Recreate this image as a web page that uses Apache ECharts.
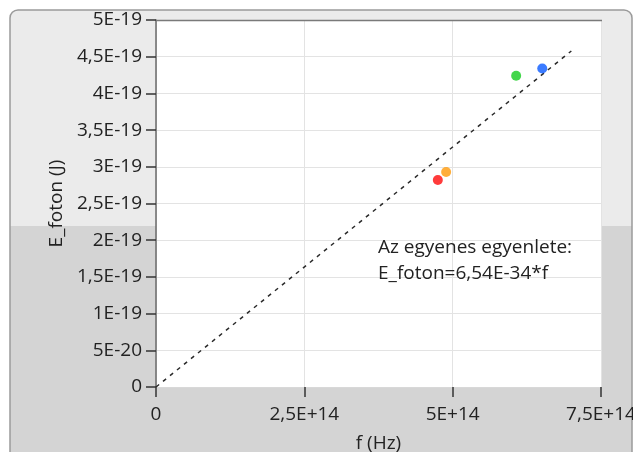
<!DOCTYPE html>
<html>
<head>
<meta charset="utf-8">
<script src="https://cdn.jsdelivr.net/npm/echarts@6/dist/echarts.min.js"></script>
<style>
html,body{margin:0;padding:0;background:#fff;}
#c{width:633px;height:452px;}
</style>
</head>
<body>
<div id="c"></div>
<script>
// Measured points (frequency in Hz, photon energy in J)
const fVals = [4.75e14, 4.89e14, 6.07e14, 6.51e14];
const eVals = [2.82e-19, 2.93e-19, 4.24e-19, 4.34e-19];
const pointColors = ['#ff0a0a', '#ff9a0a', '#14cc1e', '#0a5aff'];

// Fitted line endpoints (E = 6.54E-34 * f)
const lineF = [0, 7.0e14];
const lineE = [0, 4.578e-19];

const xTickLabels = ['0', '2,5E+14', '5E+14', '7,5E+14'];
const yTickLabels = ['0', '5E-20', '1E-19', '1,5E-19', '2E-19', '2,5E-19', '3E-19', '3,5E-19', '4E-19', '4,5E-19', '5E-19'];

const annotationLines = ['Az egyenes egyenlete:', 'E_foton=6,54E-34*f'];

const FONT = '"Open Sans", "Noto Sans", sans-serif';
const FS = 19;
const TXT = '#222222';

const chart = echarts.init(document.getElementById('c'), null, {renderer: 'canvas'});

const scatterData = fVals.map((f, i) => ({
  value: [f, eVals[i]],
  itemStyle: {color: pointColors[i]}
}));

chart.setOption({
  animation: false,
  backgroundColor: '#ffffff',
  graphic: [
    {type: 'rect', z: -30, shape: {x: 10, y: 10, width: 622, height: 460, r: 8}, style: {fill: '#ebebeb'}},
    {type: 'rect', z: -29, shape: {x: 10, y: 226, width: 622, height: 240}, style: {fill: '#d4d4d4'}},
    {type: 'rect', z: -28, shape: {x: 10, y: 10, width: 622, height: 460, r: 8}, style: {fill: null, stroke: '#9a9a9a', lineWidth: 1.5}},
    {type: 'line', z: 100, shape: {x1: 156, y1: 20.5, x2: 602, y2: 20.5}, style: {stroke: '#7a7a7a', lineWidth: 1.5}},
    {type: 'text', z: 100, left: 378, top: 235,
      style: {text: annotationLines.join('\n'), font: FS + 'px ' + FONT, fill: TXT, lineHeight: 26}}
  ],
  grid: {left: 156, top: 20, width: 445, height: 367, show: true, backgroundColor: '#ffffff', borderWidth: 0,
    containLabel: false, outerBoundsMode: 'none'},
  xAxis: {
    type: 'value', min: 0, max: 7.5e14, interval: 2.5e14,
    name: 'f (Hz)', nameLocation: 'middle', nameGap: 47,
    nameTextStyle: {fontFamily: FONT, fontSize: FS, color: TXT},
    axisLine: {show: true, lineStyle: {color: '#d8d8d8', width: 1}},
    axisTick: {show: true, inside: false, length: 10, lineStyle: {color: '#333', width: 1.5}},
    axisLabel: {margin: 18, fontFamily: FONT, fontSize: FS, color: TXT, hideOverlap: false,
      formatter: v => xTickLabels[Math.round(v / 2.5e14)]},
    splitLine: {show: true, lineStyle: {color: '#e3e3e3', width: 1}}
  },
  yAxis: {
    type: 'value', min: 0, max: 5e-19, interval: 5e-20,
    name: 'E_foton (J)', nameLocation: 'middle', nameGap: 86, nameRotate: 90,
    nameTextStyle: {fontFamily: FONT, fontSize: FS, color: TXT},
    axisLine: {show: true, lineStyle: {color: '#6a6a6a', width: 1.5}},
    axisTick: {show: true, inside: false, length: 10, lineStyle: {color: '#333', width: 1.5}},
    axisLabel: {margin: 14, fontFamily: FONT, fontSize: FS, color: TXT,
      formatter: v => yTickLabels[Math.round(v / 5e-20)]},
    splitLine: {show: true, lineStyle: {color: '#e3e3e3', width: 1}}
  },
  series: [
    {
      type: 'line',
      data: lineF.map((f, i) => [f, lineE[i]]),
      showSymbol: false,
      lineStyle: {color: '#2a2a2a', width: 1.5, type: [4, 5]},
      z: 2
    },
    {
      type: 'scatter',
      data: scatterData,
      symbol: 'circle',
      symbolSize: 10,
      z: 3
    }
  ]
});
</script>
</body>
</html>
